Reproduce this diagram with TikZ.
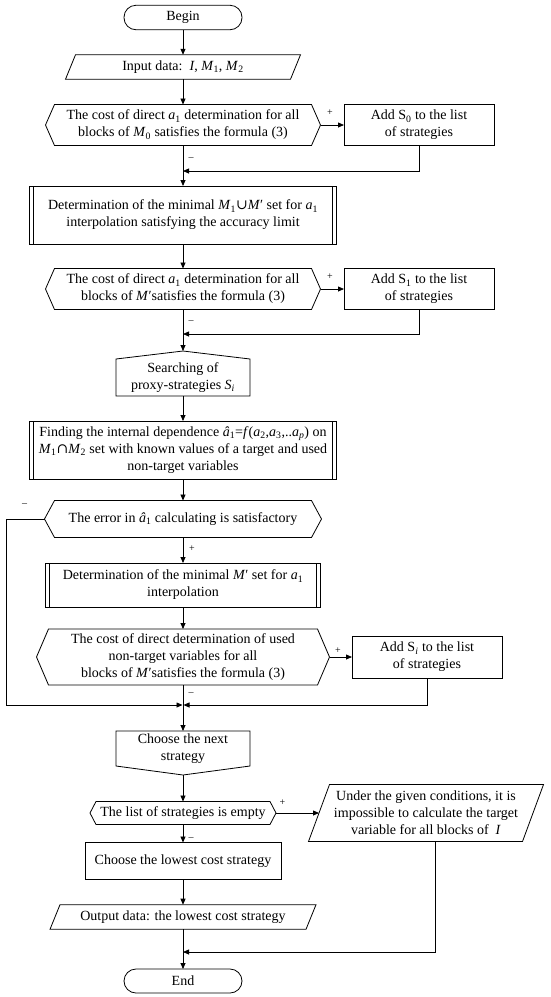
\documentclass[tikz,border=0pt]{standalone}
\usepackage{fontspec}
\setmainfont{Liberation Serif}
\newfontfamily\symfont{DejaVu Serif}
\usetikzlibrary{arrows.meta,calc}

\newcommand\hexout[2]{%
  \coordinate (#1-L) at ([xshift=-#2]#1.west);
  \coordinate (#1-R) at ([xshift=#2]#1.east);
  \draw (#1.north west) -- (#1.north east) -- (#1-R) -- (#1.south east) -- (#1.south west) -- (#1-L) -- cycle;}
\newcommand\paraout[2]{%
  \draw ([xshift=#2]#1.north west) -- ([xshift=#2]#1.north east) -- ([xshift=-#2]#1.south east) -- ([xshift=-#2]#1.south west) -- cycle;}
\newcommand\predout[1]{%
  \draw ([xshift=4.3]#1.north west) -- ([xshift=4.3]#1.south west) ([xshift=-4.3]#1.north east) -- ([xshift=-4.3]#1.south east);}
\newcommand\pentup[2]{%
  \coordinate (#1-T) at ([yshift=#2]#1.north);
  \draw (#1.south west) -- (#1.north west) -- (#1-T) -- (#1.north east) -- (#1.south east) -- cycle;}
\newcommand\pentdown[2]{%
  \coordinate (#1-B) at ([yshift=-#2]#1.south);
  \draw (#1.north west) -- (#1.north east) -- (#1.south east) -- (#1-B) -- (#1.south west) -- cycle;}
\newcommand\vi[1]{\textit{#1}}
\newcommand\sbs[1]{\textsubscript{#1}}

\tikzset{
  base/.style={font=\fontsize{14}{17}\selectfont, align=center, inner sep=0pt, outer sep=0pt},
  box/.style={base, draw, rectangle},
  plain/.style={base, rectangle},
  term/.style={base, draw, rectangle, rounded corners=12pt},
  arr/.style={-{Triangle[length=6pt,width=5pt]}},
  lab/.style={font=\fontsize{10}{12}\selectfont, inner sep=0pt},
}

\begin{document}
\begin{tikzpicture}[x=1pt,y=-1pt,line width=0.8pt]
\useasboundingbox (0,0) rectangle (550,997);

\node[term, minimum width=118, minimum height=24.5] (begin) at (183,17.5) {Begin};
\node[plain, minimum width=225, minimum height=24.5] (input) at (183,67) {Input data:\ \ \vi{I}, \vi{M}\sbs{1}, \vi{M}\sbs{2}};
\paraout{input}{5}

\node[plain, minimum width=257, minimum height=41] (d1) at (183,125) {The cost of direct \vi{a}\sbs{1} determination for all\\blocks of \vi{M}\sbs{0} satisfies the formula (3)};
\hexout{d1}{9}
\node[box, minimum width=150, minimum height=41] (s0) at (419,125) {Add S\sbs{0} to the list\\of strategies};
\coordinate (m1) at (183,171);

\node[box, minimum width=307, minimum height=58] (p1) at (183,215) {Determination of the minimal \vi{M}\sbs{1}{\symfont ∪}\vi{M}′ set for \vi{a}\sbs{1}\\interpolation satisfying the accuracy limit};
\predout{p1}

\node[plain, minimum width=257, minimum height=41] (d2) at (183,289) {The cost of direct \vi{a}\sbs{1} determination for all\\blocks of \vi{M}′satisfies the formula (3)};
\hexout{d2}{9}
\node[box, minimum width=150, minimum height=41] (s1) at (419,289) {Add S\sbs{1} to the list\\of strategies};
\coordinate (m2) at (183,334);

\node[plain, minimum width=134, minimum height=37] (search) at (183,377.5) {Searching of\\proxy-strategies \vi{S}\sbs{\vi{i}}};
\pentup{search}{8}

\node[box, minimum width=307, minimum height=58] (p2) at (183,450) {Finding the internal dependence \vi{â}\sbs{1}=\vi{f}(\vi{a}\sbs{2},\vi{a}\sbs{3},..\vi{a}\sbs{\vi{p}}) on\\\vi{M}\sbs{1}{\symfont ∩}\vi{M}\sbs{2} set with known values of a target and used\\non-target variables};
\predout{p2}

\node[plain, minimum width=257, minimum height=37] (d3) at (183,519) {The error in \vi{â}\sbs{1} calculating is satisfactory};
\hexout{d3}{10}

\node[box, minimum width=275, minimum height=44] (p3) at (183,585) {Determination of the minimal \vi{M}′ set for \vi{a}\sbs{1}\\interpolation};
\predout{p3}

\node[plain, minimum width=269, minimum height=56] (d4) at (183,657) {The cost of direct determination of used\\non-target variables for all\\blocks of \vi{M}′satisfies the formula (3)};
\hexout{d4}{12}
\node[box, minimum width=150, minimum height=42] (si) at (427,657) {Add S\sbs{\vi{i}} to the list\\of strategies};
\coordinate (m3) at (183,705);
\coordinate (lc) at (6.5,705);

\node[plain, minimum width=134, minimum height=35] (next) at (183,748.5) {Choose the next\\strategy};
\pentdown{next}{9}

\node[plain, minimum width=174, minimum height=23] (d5) at (183,813) {The list of strategies is empty};
\hexout{d5}{6}
\node[plain, minimum width=214, minimum height=57] (para2) at (426,813) {Under the given conditions, it is\\impossible to calculate the target\\variable for all blocks of\ \ \vi{I}};
\paraout{para2}{10.5}
\coordinate (p2b) at ([xshift=9]para2.south);

\node[box, minimum width=196, minimum height=37] (lowest) at (183,861) {Choose the lowest cost strategy};
\node[plain, minimum width=256, minimum height=24.6] (output) at (183,917) {Output data: the lowest cost strategy};
\paraout{output}{5}
\coordinate (m4) at (183,952);
\node[term, minimum width=118, minimum height=24] (end) at (183,981) {End};

% connectors
\draw[arr] (begin) -- (input);
\draw[arr] (input) -- (d1);
\draw[arr] (d1-R) -- (s0.west);
\draw[arr] (s0.south) |- (m1);
\draw[arr] (d1) -- (p1);
\draw[arr] (p1) -- (d2);
\draw[arr] (d2-R) -- (s1.west);
\draw[arr] (s1.south) |- (m2);
\draw[arr] (d2) -- (search-T);
\draw[arr] (search) -- (p2);
\draw[arr] (p2) -- (d3);
\draw[arr] (d3) -- (p3);
\draw[arr] (p3) -- (d4);
\draw[arr] (d4-R) -- (si.west);
\draw[arr, shorten >=0.5pt] (d3-L) -| (lc) -- (m3);
\draw[arr, shorten >=0.5pt] (si.south) |- (m3);
\draw[arr] (d4) -- (next);
\draw[arr] (next-B) -- (d5);
\draw[arr] (d5-R) -- (para2.west);
\draw[arr] (d5) -- (lowest);
\draw[arr] (lowest) -- (output);
\draw[arr] (output) -- (end);
\draw[arr] (p2b) |- (m4);

% labels
\node[lab] (pl1) at (330,113) {+};
\node[lab] (mi1) at (191,159) {–};
\node[lab] (pl2) at (330,277) {+};
\node[lab] (mi2) at (191,322) {–};
\node[lab] (mi3) at (24.6,505) {–};
\node[lab] (pl3) at (192,549) {+};
\node[lab] (pl4) at (338,651) {+};
\node[lab] (mi4) at (191,694) {–};
\node[lab] (pl5) at (282.5,802.6) {+};
\node[lab] (mi5) at (191,839) {–};
\end{tikzpicture}
\end{document}
